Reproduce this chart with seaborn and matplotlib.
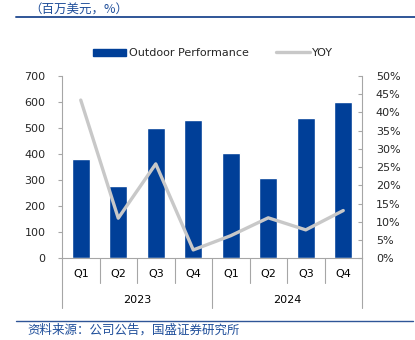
import matplotlib
matplotlib.use("Agg")
import matplotlib.pyplot as plt
import matplotlib.transforms as mtransforms
from matplotlib.lines import Line2D
from matplotlib.patches import Patch
import numpy as np
import pandas as pd
import seaborn as sns

# Quarterly revenue of the Outdoor Performance segment (USD mn) and YoY growth (%)
years = ["2023", "2024"]
quarters = ["Q1", "Q2", "Q3", "Q4", "Q1", "Q2", "Q3", "Q4"]
revenue = [382, 278, 500, 531, 406, 309, 538, 600]
yoy = [43.4, 11.0, 25.9, 2.3, 6.2, 11.1, 7.8, 13.1]
left_ticks = [0, 100, 200, 300, 400, 500, 600, 700]
right_ticks = [0, 5, 10, 15, 20, 25, 30, 35, 40, 45, 50]

BAR_BLUE = "#003F98"
LINE_GREY = "#C8C8C8"
AXIS_GREY = "#A6A6A6"
NOTE_BLUE = "#1F4E9A"

sns.set_theme(style="white")
plt.rcParams["font.family"] = ["DejaVu Sans", "Noto Sans CJK SC"]

W, H = 415, 340
fig = plt.figure(figsize=(W / 100, H / 100), dpi=100)
x0, x1, y_top, y_zero = 62, 362, 76, 258.3
ax = fig.add_axes([x0 / W, 1 - y_zero / H, (x1 - x0) / W, (y_zero - y_top) / H])

df = pd.DataFrame({"idx": np.arange(len(revenue)), "revenue": revenue, "yoy": yoy})

sns.barplot(data=df, x="idx", y="revenue", color=BAR_BLUE, saturation=1,
            width=0.48, ax=ax, zorder=2)
ax.set_xlim(-0.5, len(revenue) - 0.5)
ax.set_ylim(0, 700)
ax.set_yticks(left_ticks)
ax.set_yticklabels([str(t) for t in left_ticks])
ax.set_xticks(range(len(quarters)))
ax.set_xticklabels(quarters)
ax.set_xlabel("")
ax.set_ylabel("")
ax.tick_params(axis="x", length=0, pad=8, labelsize=8, colors="black")
ax.tick_params(axis="y", direction="out", length=3, width=0.8, color=AXIS_GREY,
               pad=9, labelsize=8, left=True)

ax2 = ax.twinx()
sns.lineplot(data=df, x="idx", y="yoy", color=LINE_GREY, linewidth=2.4, ax=ax2, zorder=3)
ax2.set_ylim(0, 50)
ax2.set_yticks(right_ticks)
ax2.set_yticklabels([f"{t}%" for t in right_ticks])
ax2.set_ylabel("")
ax2.tick_params(axis="y", direction="in", length=3, width=0.8, color=AXIS_GREY,
                pad=10, labelsize=8, right=True)
ax2.set_xlim(-0.5, len(revenue) - 0.5)

for a in (ax, ax2):
    for side, sp in a.spines.items():
        sp.set_color(AXIS_GREY)
        sp.set_linewidth(0.8)
    a.spines["top"].set_visible(False)
ax2.spines["left"].set_visible(False)
ax2.spines["bottom"].set_visible(False)
ax.spines["right"].set_visible(False)

# category separators below the axis: short between quarters, long between years
trans = mtransforms.blended_transform_factory(ax.transData, fig.transFigure)
for b in np.arange(-0.5, len(quarters), 1.0):
    k = int(b + 0.5)
    long = k % 4 == 0
    y_end = 308 if long else 283
    ax.add_line(Line2D([b, b], [1 - y_zero / H, 1 - y_end / H], transform=trans,
                       color=AXIS_GREY, linewidth=0.8, clip_on=False))
for i, yr in enumerate(years):
    ax.text(1.5 + 4 * i, 1 - 300 / H, yr, transform=trans, ha="center", va="center",
            fontsize=8, color="black")

# legend
handles = [Patch(facecolor=BAR_BLUE, edgecolor=BAR_BLUE),
           Line2D([0], [0], color=LINE_GREY, linewidth=2.4)]
fig.legend(handles, ["Outdoor Performance", "YOY"], loc="center", ncol=2,
           bbox_to_anchor=(213 / W, 1 - 53 / H), frameon=False, fontsize=8,
           handlelength=3.0, handleheight=0.6, handletextpad=0.25, columnspacing=2.5)

# header unit note and source footnote with rules
fig.text(29 / W, 1 - 10 / H, "（百万美元，%）", fontsize=9, color=NOTE_BLUE,
         ha="left", va="center", family=["Noto Sans CJK SC", "DejaVu Sans"], style="italic")
fig.add_artist(Line2D([16 / W, 1], [1 - 17 / H, 1 - 17 / H], transform=fig.transFigure,
                      color="#2F5597", linewidth=1.4))
fig.add_artist(Line2D([16 / W, 413 / W], [1 - 321 / H, 1 - 321 / H], transform=fig.transFigure,
                      color="#2F5597", linewidth=1.0))
fig.text(27 / W, 1 - 330 / H, "资料来源：公司公告，国盛证券研究所", fontsize=9, color=NOTE_BLUE,
         ha="left", va="center", family=["Noto Sans CJK SC", "DejaVu Sans"], style="italic")

fig.savefig("out.png", dpi=100)
